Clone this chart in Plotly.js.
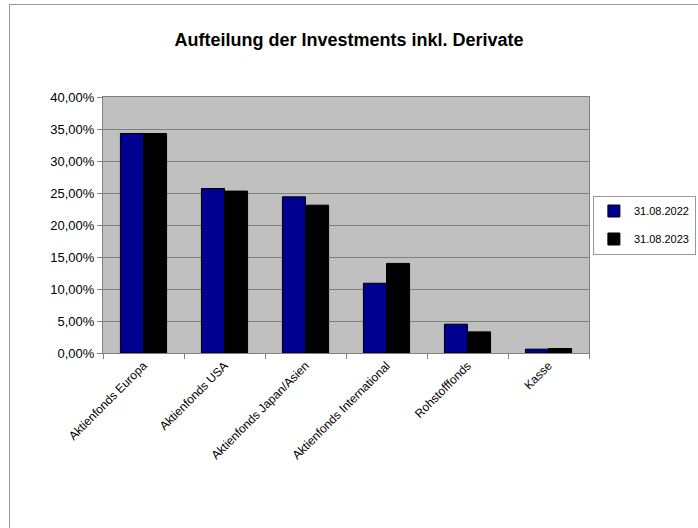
<!DOCTYPE html>
<html>
<head>
<meta charset="utf-8">
<script src="https://cdn.plot.ly/plotly-3.0.1.min.js"></script>
<style>
  html, body { margin: 0; padding: 0; background: #fff; }
  #wrap { position: relative; width: 698px; height: 528px; overflow: hidden; }
  #frame { position: absolute; left: 9px; top: 4px; width: 800px; height: 600px;
           border-left: 1px solid #999; border-top: 1px solid #999; pointer-events: none; z-index: 5; }
  #chart { position: absolute; left: 0; top: 0; width: 698px; height: 528px; }
</style>
</head>
<body>
<div id="wrap">
  <div id="chart"></div>
  <div id="frame"></div>
</div>
<script>
const categories = ["Aktienfonds Europa", "Aktienfonds USA", "Aktienfonds Japan/Asien",
                    "Aktienfonds International", "Rohstofffonds", "Kasse"];
const series2022 = [0.343, 0.257, 0.244, 0.109, 0.045, 0.006];
const series2023 = [0.343, 0.253, 0.231, 0.140, 0.033, 0.007];
const seriesNames = ["31.08.2022", "31.08.2023"];
const yTicks = [0, 0.05, 0.10, 0.15, 0.20, 0.25, 0.30, 0.35, 0.40];

const font = "Liberation Sans, Arial, sans-serif";

const traces = [
  { type: "bar", name: seriesNames[0], x: categories, y: series2022, legendgroup: "g1",
    marker: { color: "#000090", line: { color: "#000000", width: 1 } } },
  { type: "bar", name: seriesNames[1], x: categories, y: series2023, legendgroup: "g2",
    marker: { color: "#000000", line: { color: "#000000", width: 1 } } }
];

const layout = {
  width: 698, height: 528,
  margin: { l: 103, r: 109, t: 97, b: 175, autoexpand: false },
  paper_bgcolor: "#ffffff",
  plot_bgcolor: "#c0c0c0",
  separators: ",.",
  font: { family: font, color: "#000" },
  title: { text: "<b>Aufteilung der Investments inkl. Derivate</b>",
           font: { family: font, size: 18, color: "#000" },
           x: 0.5, xanchor: "center", y: 1 - 40 / 528, yanchor: "middle" },
  barmode: "group",
  bargap: 0.43,
  bargroupgap: 0,
  showlegend: true,
  legend: { x: 1.114, xanchor: "center", y: 0.5, yanchor: "middle",
            bordercolor: "#999", borderwidth: 1, bgcolor: "#fff",
            font: { family: font, size: 11, color: "#000" },
            itemwidth: 30, tracegroupgap: 9 },
  xaxis: { type: "category", tickangle: -45, tickfont: { family: font, size: 12 },
           showline: true, linecolor: "#808080", linewidth: 1, mirror: true,
           ticks: "outside", ticklen: 5, tickcolor: "#808080", tickson: "boundaries",
           showgrid: false },
  yaxis: { range: [0, 0.4], tickvals: yTicks, tickformat: ".2%",
           tickfont: { family: font, size: 13 },
           showline: true, linecolor: "#808080", linewidth: 1, mirror: true,
           ticks: "outside", ticklen: 5, tickcolor: "#808080",
           showgrid: true, gridcolor: "#808080", gridwidth: 1, zeroline: false,
           fixedrange: true }
};

Plotly.newPlot("chart", traces, layout, { displayModeBar: false, staticPlot: true });
</script>
</body>
</html>
